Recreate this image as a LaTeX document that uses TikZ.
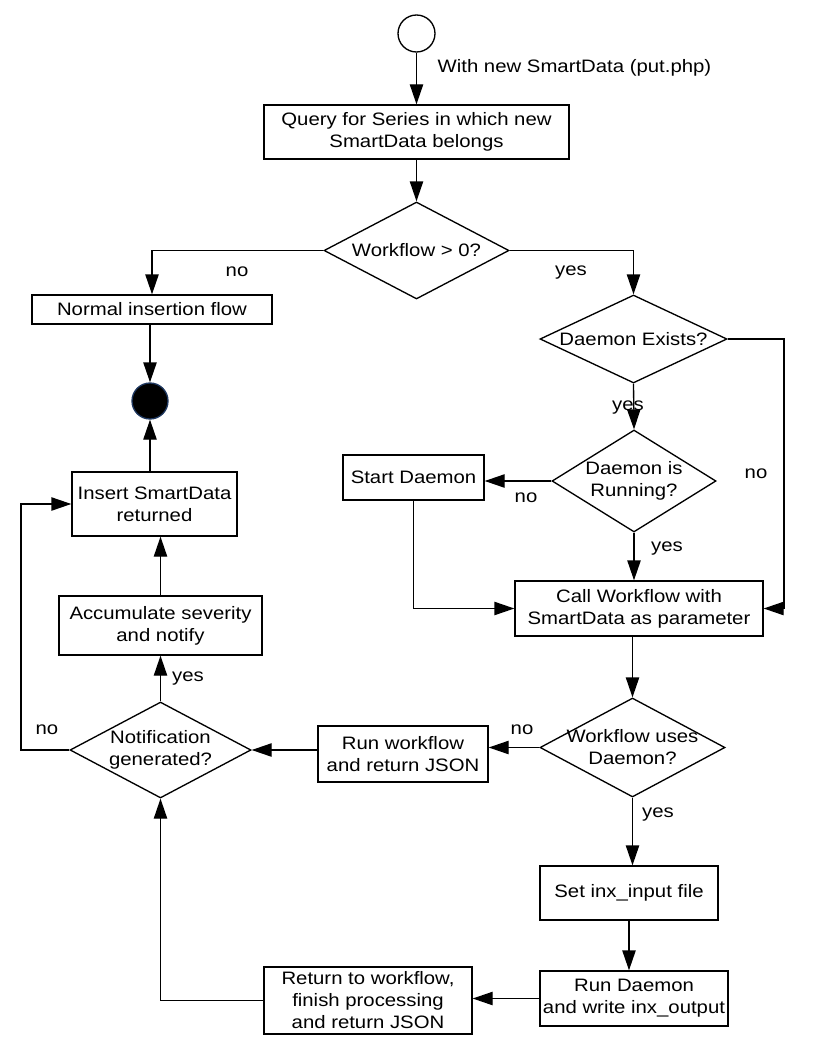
\documentclass[tikz,border=0pt]{standalone}
\usepackage{fontspec}
\setmainfont{Liberation Sans}[FakeStretch=1.13]
\usepackage{tikz}
\usetikzlibrary{positioning}
\usetikzlibrary{arrows.meta}
\usetikzlibrary{shapes.geometric}
\definecolor{endrim}{RGB}{30,55,95}

\begin{document}
\begin{tikzpicture}[x=0.75pt, y=-0.75pt, line width=1pt, >={Triangle[length=15pt,width=10pt]},
  font=\fontsize{13.5pt}{16.5pt}\selectfont,
  box/.style 2 args={draw, rectangle, align=center, inner sep=0pt, minimum width=#1, minimum height=#2},
  decision/.style 2 args={draw, diamond, inner sep=0pt, minimum width=#1, minimum height=#2},
  txt/.style={inner sep=0pt, align=center}]

\useasboundingbox (0,0) rectangle (816,1056);

% start and end points
\node [draw, circle, inner sep=0pt, minimum size=27.75pt] (start) at (416.5,33.5) {};
\node [draw=endrim, fill=black, circle, inner sep=0pt, minimum size=27pt] (finish) at (150,401) {};

% boxes
\node [box={228.75pt}{40.5pt}] (query) at (416.5,132) {Query for Series in which new\\SmartData belongs};
\node [box={180pt}{21.75pt}] (normal) at (152,309.5) {Normal insertion flow};
\node [box={123.75pt}{48pt}] (insert) at (154.5,504) {Insert SmartData\\returned};
\node [box={152.25pt}{44.25pt}] (accum) at (160.5,625.5) {Accumulate severity\\and notify};
\node [box={127.5pt}{42pt}] (runwf) at (403,754) {Run workflow\\and return JSON};
\node [box={105.75pt}{33.75pt}] (startd) at (413.5,477.5) {Start Daemon};
\node [box={186pt}{41.25pt}] (call) at (639,608.5) {Call Workflow with\\SmartData as parameter};
\node [box={133.5pt}{40.5pt}] (setinx) at (629,893) {Set inx\_input file};
\node [box={141pt}{41.25pt}] (rund) at (634,998.5) {Run Daemon\\and write inx\_output};
\node [box={156pt}{50.25pt}] (return) at (368,1000.5) {Return to workflow,\\finish processing\\and return JSON};

% decisions
\node [decision={138.75pt}{72.75pt}, label={[txt]center:{Workflow > 0?}}] (wf0) at (416.5,250.5) {};
\node [decision={140.25pt}{66pt}, label={[txt]center:{Daemon Exists?}}] (exists) at (633.5,339) {};
\node [decision={123pt}{76.5pt}, label={[txt]center:{Daemon is\\Running?}}] (running) at (634,481) {};
\node [decision={138.75pt}{74.25pt}, label={[txt]center:{Workflow uses\\Daemon?}}] (uses) at (632.5,747.5) {};
\node [decision={135.75pt}{72pt}, label={[txt]center:{Notification\\generated?}}] (notif) at (160.5,750) {};

\coordinate (existsno) at (784,339);
\coordinate (notifno) at (21,750);

% connectors
\draw [->] (start) -- (query);
\node [txt, anchor=west] (newdata) at (437,68) {With new SmartData (put.php)};
\draw [->] (query) -- (wf0);
\draw [->] (wf0.west) -| (normal.north);
\draw [->] (wf0.east) -| (exists.north);
\node [txt] (wf0no) at (237,272) {no};
\node [txt] (wf0yes) at (571,273) {yes};

\draw [->] (finish.north |- normal.south) -- (finish.north);
\draw [->] (finish.south |- insert.north) -- (finish.south);
\draw [->] (accum.north) -- (accum.north |- insert.south);
\draw [->] (notif.north) -- (notif.north |- accum.south);
\node [txt] (notifyes) at (188,679) {yes};
\draw [->] (notif.west) -- (notifno) |- (insert.west);
\node [txt] (notifnolbl) at (47,730) {no};

\draw [->] (exists.south) -- (running.north);
\node [txt] (existsyes) at (628,408) {yes};
\draw [->] (exists.east) -- (existsno) |- (call.east);
\node [txt] (existsnolbl) at (756,474) {no};
\draw [->] (running.west) -- (running.west -| startd.east);
\node [txt] (runningno) at (526,498) {no};
\draw [->] (startd.south) |- (call.west);
\draw [->] (running.south) -- (running.south |- call.north);
\node [txt] (runningyes) at (667,549) {yes};

\draw [->] (uses.north |- call.south) -- (uses.north);
\draw [->] (uses.west) -- (uses.west -| runwf.east);
\node [txt] (usesno) at (522,730) {no};
\draw [->] (runwf.west |- notif.east) -- (notif.east);
\draw [->] (uses.south) -- (uses.south |- setinx.north);
\node [txt] (usesyes) at (658,815) {yes};
\draw [->] (setinx.south) -- (setinx.south |- rund.north);
\draw [->] (rund.west) -- (rund.west -| return.east);
\draw [->] (return.west) -| (notif.south);

\end{tikzpicture}
\end{document}
